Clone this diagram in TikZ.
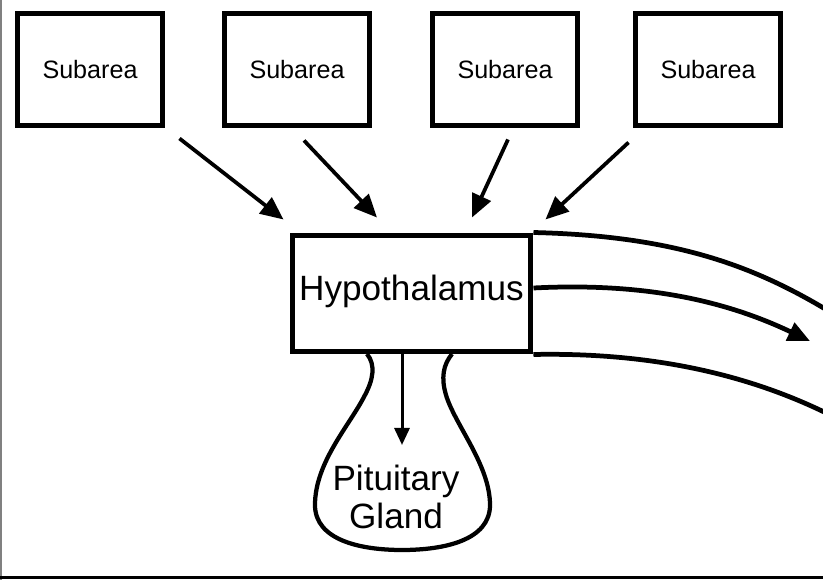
\documentclass[tikz,border=0pt]{standalone}
\usepackage{fontspec}
\setmainfont{Liberation Sans}
\usetikzlibrary{arrows.meta}

\begin{document}
\begin{tikzpicture}
[x=0.02cm, y=-0.02cm,
  areaBox/.style={draw, line width=0.1cm, minimum width=2.92cm,
    minimum height=2.26cm, inner sep=0pt,
    font=\fontsize{14.3}{17}\selectfont},
  hypoBox/.style={draw, line width=0.1cm, minimum width=4.78cm,
    minimum height=2.34cm, inner sep=0pt,
    font=\fontsize{20}{24}\selectfont},
  feedArrow/.style={line width=0.075cm, -{Triangle[length=0.46cm,width=0.4cm]}},
  outLine/.style={line width=0.095cm},
  glandLine/.style={line width=0.085cm}]
\clip (0,0) rectangle (823,580);
\useasboundingbox (0,0) rectangle (823,580);
%% frame
\draw[gray, line width=0.04cm] (1,0) -- (1,580);
\draw[line width=0.06cm] (0,578) -- (823,578);
%% nodes
\foreach \nodename/\x in {s1/90, s2/297, s3/505, s4/708}
{
  \node (\nodename) at (\x,69.5) [areaBox] {Subarea};
}
\node (hyp) at (411.5,293.5) [hypoBox] {\raisebox{0.22cm}{Hypothalamus}};
\node (pit) at (396,497) [align=center, inner sep=0pt,
  font=\fontsize{20}{21.6}\selectfont] {Pituitary\\Gland};
\coordinate (stalk) at (402,445);
\coordinate (outTop) at (840,318);
\coordinate (outMid) at (810,341);
\coordinate (outLow) at (840,420);
%% arrows into the hypothalamus
\draw[feedArrow] ([shift={(14,10)}]s1.south east) -- ([shift={(-6,-13)}]hyp.north west);
\draw[feedArrow] ([shift={(7,12)}]s2.south) -- ([shift={(-34.5,-15)}]hyp.north);
\draw[feedArrow] ([shift={(3,11)}]s3.south) -- ([shift={(60.5,-15)}]hyp.north);
\draw[feedArrow] ([shift={(-4,14)}]s4.south west) -- ([shift={(12,-13)}]hyp.north east);
%% outputs to the right
\draw[outLine] (hyp.north east) .. controls (680,236) and (760,268) .. (outTop);
\draw[outLine, -{Triangle[length=0.44cm,width=0.38cm]}]
  ([yshift=0.11cm]hyp.east) .. controls (650,282) and (730,303) .. (outMid);
\draw[outLine] (hyp.south east) .. controls (660,352) and (760,378) .. (outLow);
%% pituitary gland
\draw[glandLine] (367,354) .. controls (376,365) and (373,380) .. (365,395)
  .. controls (350,425) and (315,462) .. (315,505)
  .. controls (315,540) and (360,550) .. (402,550)
  .. controls (445,550) and (490,540) .. (490,505)
  .. controls (490,465) and (455,425) .. (446,395)
  .. controls (441,378) and (443,365) .. (452,354);
\draw[line width=0.06cm, -{Triangle[length=0.34cm,width=0.3cm]}]
  (hyp.south -| stalk) -- (stalk);
\end{tikzpicture}
\end{document}
